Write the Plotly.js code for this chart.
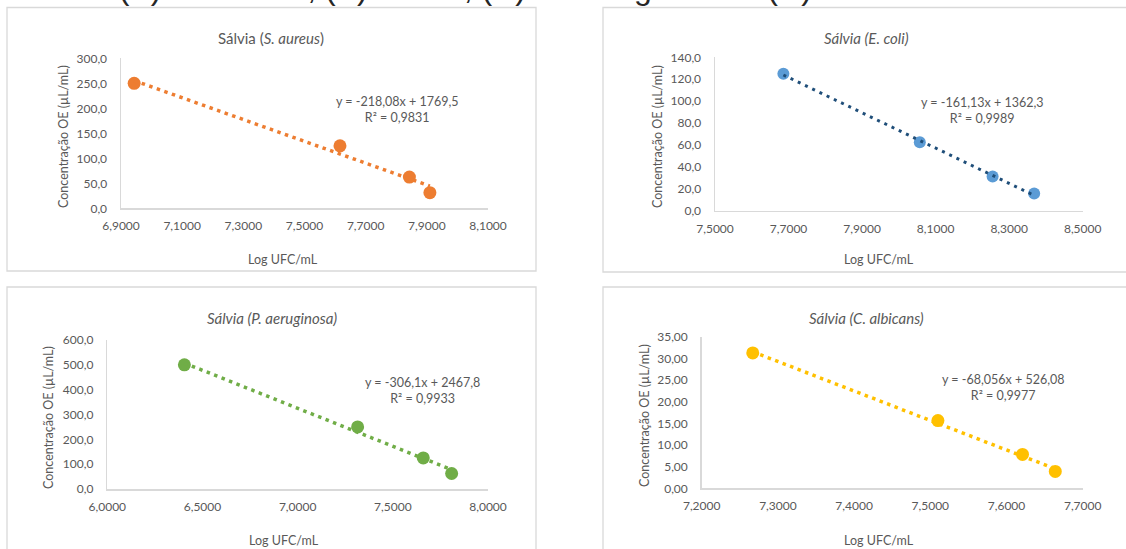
<!DOCTYPE html>
<html>
<head>
<meta charset="utf-8">
<script src="https://cdn.plot.ly/plotly-3.0.1.min.js"></script>
<style>
  html, body { margin: 0; padding: 0; background: #ffffff; }
  #chart { width: 1126px; height: 549px; }
</style>
</head>
<body>
<div id="chart"></div>
<script>
// Panel titles
const panelTitles = [
  'Sálvia (<i>S. aureus</i>)',
  '<i>Sálvia (E. coli)</i>',
  '<i>Sálvia (P. aeruginosa)</i>',
  '<i>Sálvia (C. albicans)</i>'
];
const figureHeading = 'SÁLVIA (A) S. aureus; (B) E. coli; (C) P. aeruginosa E (D) C. albicans';
const xAxisTitle = 'Log UFC/mL';
const yAxisTitle = 'Concentração OE (µL/mL)';

// Log UFC/mL vs essential-oil concentration, one pair of arrays per organism
const logUfcAureus = [6.943, 7.616, 7.843, 7.910];
const concAureus   = [250, 125, 62.5, 31.25];

const logUfcEcoli  = [7.686, 8.057, 8.255, 8.368];
const concEcoli    = [125, 62.5, 31.25, 15.625];

const logUfcPaeru  = [6.405, 7.315, 7.660, 7.809];
const concPaeru    = [500, 250, 125, 62.5];

const logUfcCalb   = [7.267, 7.510, 7.621, 7.664];
const concCalb     = [31.25, 15.625, 7.8125, 3.90625];

// Linear trendline coefficients and R² for each organism
const fitSlope     = [-218.08, -161.13, -306.1, -68.056];
const fitIntercept = [1769.5, 1362.3, 2467.8, 526.08];
const fitR2        = [0.9831, 0.9989, 0.9933, 0.9977];

// Axis ranges and tick steps
const xRanges  = [[6.9, 8.1], [7.5, 8.5], [6.0, 8.0], [7.2, 7.7]];
const xSteps   = [0.2, 0.2, 0.5, 0.1];
const yRanges  = [[0, 300], [0, 140], [0, 600], [0, 35]];
const ySteps   = [50, 20, 100, 5];
const yFormats = ['.1f', '.1f', '.1f', '.2f'];

const xSeries = [logUfcAureus, logUfcEcoli, logUfcPaeru, logUfcCalb];
const ySeries = [concAureus, concEcoli, concPaeru, concCalb];

const markerColors = ['#ED7D31', '#5B9BD5', '#70AD47', '#FFC000'];
const trendColors  = ['#ED7D31', '#1F4E79', '#70AD47', '#FFC000'];
const markerSizes  = [13, 12, 13, 13];
const trendWidths  = [3.5, 3, 3.5, 3.5];
const trendDashes  = ['3.5px,4.5px', '3px,5px', '3.5px,4.5px', '3.5px,4.5px'];

const W = 1126, H = 549;
const FONT = 'Lato, "Liberation Sans", Arial, sans-serif';
const TEXT = '#595959';
const LINE = '#d9d9d9';

const px = v => v / W;
const py = v => 1 - v / H;

// Plot-area rectangles in page pixels: [left, right, bottom, top]
const plotBoxes = [
  [121, 488, 208.3, 58.3],
  [715, 1082.7, 210.7, 57.3],
  [107.3, 488, 489, 340],
  [701.7, 1082.7, 488.3, 336.7]
];
// Text anchors in page pixels
const titlePos  = [[271, 38], [866, 38], [272, 318], [866, 318]];
const yTitlePos = [[63, 137], [657, 137], [48, 418], [644, 416]];
const xTitlePos = [[283, 259], [879, 259], [284, 540], [879, 540]];
const eqPos     = [[397, 110], [982, 110.5], [422.5, 390], [1002.5, 387]];

const num = v => String(v).replace('.', ',');

const traces = [];
const layout = {
  width: W, height: H,
  margin: {l: 0, r: 0, t: 0, b: 0},
  paper_bgcolor: '#ffffff',
  plot_bgcolor: '#ffffff',
  showlegend: false,
  separators: ', ',
  font: {family: FONT, color: TEXT},
  annotations: [],
  shapes: []
};

for (let i = 0; i < 4; i++) {
  const sfx = i === 0 ? '' : String(i + 1);
  const xs = xSeries[i], ys = ySeries[i];

  traces.push({
    type: 'scatter', mode: 'markers',
    x: xs, y: ys,
    xaxis: 'x' + sfx, yaxis: 'y' + sfx,
    marker: {color: markerColors[i], size: markerSizes[i], line: {width: 0}},
    hoverinfo: 'skip'
  });

  const xLo = Math.min(...xs), xHi = Math.max(...xs);
  const trendX = [xLo, xHi];
  const trendY = trendX.map(v => fitSlope[i] * v + fitIntercept[i]);
  traces.push({
    type: 'scatter', mode: 'lines',
    x: trendX, y: trendY,
    xaxis: 'x' + sfx, yaxis: 'y' + sfx,
    line: {color: trendColors[i], width: trendWidths[i], dash: trendDashes[i]},
    hoverinfo: 'skip'
  });

  const b = plotBoxes[i];
  layout['xaxis' + sfx] = {
    domain: [px(b[0]), px(b[1])],
    anchor: 'y' + sfx,
    range: xRanges[i],
    tickmode: 'linear', tick0: xRanges[i][0], dtick: xSteps[i],
    tickformat: '.4f',
    showgrid: false, zeroline: false,
    showline: true, linecolor: LINE, linewidth: 1.5,
    ticks: '', ticklabelstandoff: 6,
    tickfont: {family: FONT, size: 12, color: TEXT},
    fixedrange: true
  };
  layout['yaxis' + sfx] = {
    domain: [py(b[2]), py(b[3])],
    anchor: 'x' + sfx,
    range: yRanges[i],
    tickmode: 'linear', tick0: 0, dtick: ySteps[i],
    tickformat: yFormats[i],
    showgrid: false, zeroline: false,
    showline: true, linecolor: LINE, linewidth: 1.5,
    ticks: '', ticklabelstandoff: 10,
    tickfont: {family: FONT, size: 12, color: TEXT},
    fixedrange: true
  };

  const ann = (pos, text, size, extra) => Object.assign({
    xref: 'paper', yref: 'paper',
    x: px(pos[0]), y: py(pos[1]),
    xanchor: 'center', yanchor: 'middle',
    text: text, showarrow: false,
    font: {family: FONT, size: size, color: TEXT}
  }, extra || {});

  layout.annotations.push(ann(titlePos[i], panelTitles[i], 15));
  layout.annotations.push(ann(xTitlePos[i], xAxisTitle, 12.5));
  layout.annotations.push(ann(yTitlePos[i], yAxisTitle, 12.5, {textangle: -90}));
  const eq = 'y = ' + num(fitSlope[i]) + 'x + ' + num(fitIntercept[i]) +
             '<br>R² = ' + num(fitR2[i]);
  layout.annotations.push(ann(eqPos[i], eq, 12.5));
}

// Chart frames
const frames = [
  [7, 536, 7.5, 271],
  [603, 1140, 7.5, 272],
  [7, 536, 287, 560],
  [603, 1140, 287, 560]
];
frames.forEach(f => layout.shapes.push({
  type: 'rect', xref: 'paper', yref: 'paper', layer: 'below',
  x0: px(f[0]), x1: px(f[1]), y0: py(f[3]), y1: py(f[2]),
  line: {color: LINE, width: 1.3}, fillcolor: 'rgba(0,0,0,0)'
}));

// Figure heading running along the top edge
layout.annotations.push({
  xref: 'paper', yref: 'paper',
  x: 0, y: py(8), xanchor: 'left', yanchor: 'bottom',
  text: figureHeading, showarrow: false,
  font: {family: '"Liberation Sans", Arial, sans-serif', size: 32, color: '#262626'}
});

Plotly.newPlot('chart', traces, layout, {displayModeBar: false, staticPlot: true});
</script>
</body>
</html>
